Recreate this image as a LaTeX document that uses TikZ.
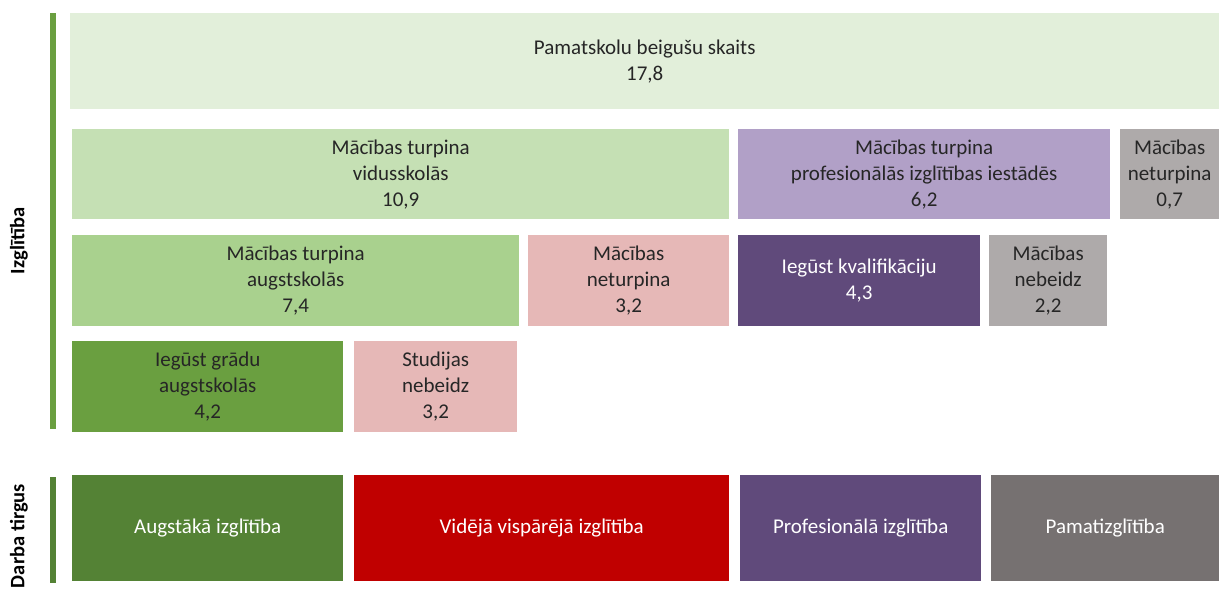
\documentclass[tikz,border=0pt]{standalone}
\usepackage{fontspec}
\setmainfont{Carlito}
\usepackage{tikz}
\definecolor{leaf pale}{rgb}{0.8863, 0.9373, 0.8549}
\definecolor{leaf light}{rgb}{0.7725, 0.8784, 0.7059}
\definecolor{leaf mid}{rgb}{0.6627, 0.8196, 0.5569}
\definecolor{leaf grass}{rgb}{0.4157, 0.6235, 0.2510}
\definecolor{leaf dark}{rgb}{0.3294, 0.5098, 0.2078}
\definecolor{plum light}{rgb}{0.6941, 0.6275, 0.7804}
\definecolor{plum dark}{rgb}{0.3765, 0.2902, 0.4824}
\definecolor{rose light}{rgb}{0.9020, 0.7216, 0.7176}
\definecolor{brick red}{rgb}{0.7529, 0, 0}
\definecolor{stone light}{rgb}{0.6824, 0.6667, 0.6667}
\definecolor{stone dark}{rgb}{0.4627, 0.4431, 0.4431}
\tikzset{
	cell/.style = {rectangle, anchor = north west, inner sep = 0pt, align = center,
		text = black!85, font = \fontsize{21}{26}\selectfont},
	darkcell/.style = {cell, text = white},
	side label/.style = {rotate = 90, font = \fontsize{20.5}{22}\selectfont\bfseries}
}

\begin{document}
\begin{tikzpicture}[x = 1pt, y = -1pt]
	\useasboundingbox (0, 0) rectangle (1219, 592);
	% side bars
	\fill[leaf grass] (50, 13) rectangle (56, 429);
	\fill[leaf dark] (50, 477) rectangle (56, 583);
	\node[side label] (edu) at (19, 241) {Izglītība};
	\node[side label] (job) at (19, 536) {Darba tirgus};
	% education
	\node[cell, fill = leaf pale, minimum width = 1149pt, minimum height = 96pt]
		(base) at (70, 13) {Pamatskolu beigušu skaits\\17,8};
	\node[cell, fill = leaf light, minimum width = 657pt, minimum height = 90pt]
		(mid) at (72, 129) {Mācības turpina\\vidusskolās\\10,9};
	\node[cell, fill = plum light, minimum width = 372pt, minimum height = 90pt]
		(voc) at (738, 129) {Mācības turpina\\profesionālās izglītības iestādēs\\6,2};
	\node[cell, fill = stone light, minimum width = 99pt, minimum height = 90pt]
		(stop) at (1120, 129) {Mācības\\neturpina\\0,7};
	\node[cell, fill = leaf mid, minimum width = 447pt, minimum height = 91pt]
		(uni) at (72, 235) {Mācības turpina\\augstskolās\\7,4};
	\node[cell, fill = rose light, minimum width = 201pt, minimum height = 91pt]
		(midstop) at (528, 235) {Mācības\\neturpina\\3,2};
	\node[darkcell, fill = plum dark, minimum width = 242pt, minimum height = 91pt]
		(qual) at (738, 235) {Iegūst kvalifikāciju\\4,3};
	\node[cell, fill = stone light, minimum width = 118pt, minimum height = 91pt]
		(vocstop) at (989, 235) {Mācības\\nebeidz\\2,2};
	\node[cell, fill = leaf grass, minimum width = 271pt, minimum height = 91pt]
		(degree) at (72, 341) {Iegūst grādu\\augstskolās\\4,2};
	\node[cell, fill = rose light, minimum width = 163pt, minimum height = 91pt]
		(unistop) at (354, 341) {Studijas\\nebeidz\\3,2};
	% labour market
	\node[darkcell, fill = leaf dark, minimum width = 271pt, minimum height = 106pt]
		(higher) at (72, 475) {Augstākā izglītība};
	\node[darkcell, fill = brick red, minimum width = 375pt, minimum height = 106pt]
		(general) at (354, 475) {Vidējā vispārējā izglītība};
	\node[darkcell, fill = plum dark, minimum width = 241pt, minimum height = 106pt]
		(prof) at (740, 475) {Profesionālā izglītība};
	\node[darkcell, fill = stone dark, minimum width = 228pt, minimum height = 106pt]
		(basic) at (991, 475) {Pamatizglītība};
\end{tikzpicture}
\end{document}
